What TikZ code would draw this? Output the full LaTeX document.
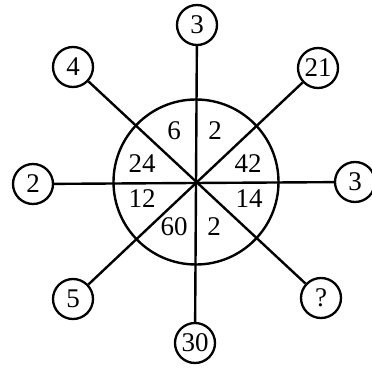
\documentclass[tikz,border=0pt]{standalone}
\usepackage{fontspec}
\setmainfont{Liberation Serif}
\begin{document}
\begin{tikzpicture}[
  x=1pt, y=-1pt,
  font=\fontsize{27}{27}\selectfont,
  ball/.style={circle, draw=black, line width=2.3pt, fill=white, minimum size=40pt, inner sep=0pt},
  hubring/.style={circle, draw=black, line width=2.4pt, minimum size=165pt, inner sep=0pt},
  spoke/.style={line width=2.4pt, draw=black},
  num/.style={inner sep=0pt},
]
\useasboundingbox (0,0) rectangle (372,369);

\node[hubring] (hub) at (196,182) {};

\node[ball] (top)   at (197,25)  {3};
\node[ball] (bot)   at (195,343) {30};
\node[ball] (left)  at (33,184)  {2};
\node[ball] (right) at (355,182) {3};
\node[ball] (tl)    at (73,67)   {4};
\node[ball] (tr)    at (318,68)  {21};
\node[ball] (bl)    at (73,299)  {5};
\node[ball] (br)    at (321,298) {?};

\draw[spoke] (top)  -- (bot);
\draw[spoke] (left) -- (right);
\draw[spoke] (tl)   -- (br);
\draw[spoke] (tr)   -- (bl);

\node[num] (a1) at (174,131) {6};
\node[num] (a2) at (215,131) {2};
\node[num] (a3) at (142,164) {24};
\node[num] (a4) at (248,164) {42};
\node[num] (a5) at (142,199) {12};
\node[num] (a6) at (249,199) {14};
\node[num] (a7) at (174,227) {60};
\node[num] (a8) at (214,227) {2};
\end{tikzpicture}
\end{document}
